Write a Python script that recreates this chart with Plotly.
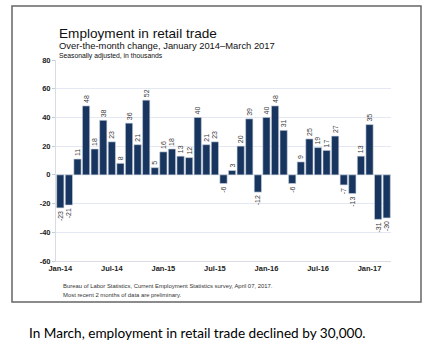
import plotly.graph_objects as go

months = ["Jan-14","Feb-14","Mar-14","Apr-14","May-14","Jun-14","Jul-14","Aug-14","Sep-14","Oct-14","Nov-14","Dec-14",
          "Jan-15","Feb-15","Mar-15","Apr-15","May-15","Jun-15","Jul-15","Aug-15","Sep-15","Oct-15","Nov-15","Dec-15",
          "Jan-16","Feb-16","Mar-16","Apr-16","May-16","Jun-16","Jul-16","Aug-16","Sep-16","Oct-16","Nov-16","Dec-16",
          "Jan-17","Feb-17","Mar-17"]
values = [-23, -21, 11, 48, 18, 38, 23, 8, 36, 21, 52, 5,
          16, 18, 13, 12, 40, 21, 23, -6, 3, 20, 39, -12,
          40, 48, 31, -6, 9, 25, 19, 17, 27, -7, -13, 13,
          35, -31, -30]
tick_labels = ["Jan-14", "Jul-14", "Jan-15", "Jul-15", "Jan-16", "Jul-16", "Jan-17"]
y_ticks = [-60, -40, -20, 0, 20, 40, 60, 80]

W, H = 434, 355
L, R, T, B = 56, 391, 60, 261

def px(x):
    return (x - L) / (R - L)

def py(y):
    return (B - y) / (B - T)

fig = go.Figure(go.Bar(
    x=months, y=values,
    marker=dict(color="#17355f", line=dict(color="#c9d0da", width=0.6)),
    text=[str(v) for v in values],
    textposition="outside", textangle=-90, constraintext="none",
    textfont=dict(family="Liberation Sans, Arial", size=7, color="#3a3a3a"),
    cliponaxis=False,
))

fig.update_layout(
    width=W, height=H,
    margin=dict(l=L, r=W - R, t=T, b=H - B),
    paper_bgcolor="white", plot_bgcolor="white",
    bargap=0.16, showlegend=False,
    xaxis=dict(
        type="category", categoryorder="array", categoryarray=months,
        tickmode="array", tickvals=tick_labels, ticktext=tick_labels,
        showgrid=False, showline=True, linecolor="#d9dde3", linewidth=1,
        ticks="", tickangle=0,
        tickfont=dict(family="Liberation Sans, Arial", size=7.5, color="#222222", weight="bold"),
        range=[-0.5, len(months) - 0.5],
    ),
    yaxis=dict(
        range=[-60, 80], tickvals=y_ticks, ticktext=[str(v) for v in y_ticks],
        showgrid=True, gridcolor="#e3e8f2", gridwidth=1,
        zeroline=False, showline=True, linecolor="#d9dde3", linewidth=1,
        ticks="outside", ticklen=3, tickcolor="#c8ccd2",
        tickfont=dict(family="Liberation Sans, Arial", size=7.5, color="#222222", weight="bold"),
    ),
)

shapes = [
    dict(type="rect", xref="paper", yref="paper",
         x0=px(12), x1=px(421), y0=py(302), y1=py(6),
         line=dict(color="#666666", width=1.5), fillcolor="rgba(0,0,0,0)", layer="below"),
]
fig.update_layout(shapes=shapes)

def ann(text, x, y, size, color="#111111", family="Liberation Sans, Arial"):
    return dict(text=text, xref="paper", yref="paper", x=px(x), y=py(y),
                xanchor="left", yanchor="middle", showarrow=False,
                font=dict(family=family, size=size, color=color))

fig.update_layout(annotations=[
    ann("Employment in retail trade", 57, 33, 13.6),
    ann("Over-the-month change, January 2014\u2013March 2017", 57, 45.5, 9.4),
    ann("Seasonally adjusted, in thousands", 57, 55.5, 6.8),
    ann("Bureau of Labor Statistics, Current Employment Statistics survey, April 07, 2017.", 61, 286, 5.9, "#333333"),
    ann("Most recent 2 months of data are preliminary.", 61, 294.5, 5.9, "#333333"),
    ann("In March, employment in retail trade declined by 30,000.", 27, 333, 13.6, "#000000", "Lato, Liberation Sans"),
])

fig.write_html("out.html", config={"displayModeBar": False})

with open("out.html", "r", encoding="utf-8") as f:
    html = f.read()
html = html.replace("<head>", "<head><style>html,body{margin:0;padding:0;overflow:hidden;}</style>", 1)
with open("out.html", "w", encoding="utf-8") as f:
    f.write(html)
